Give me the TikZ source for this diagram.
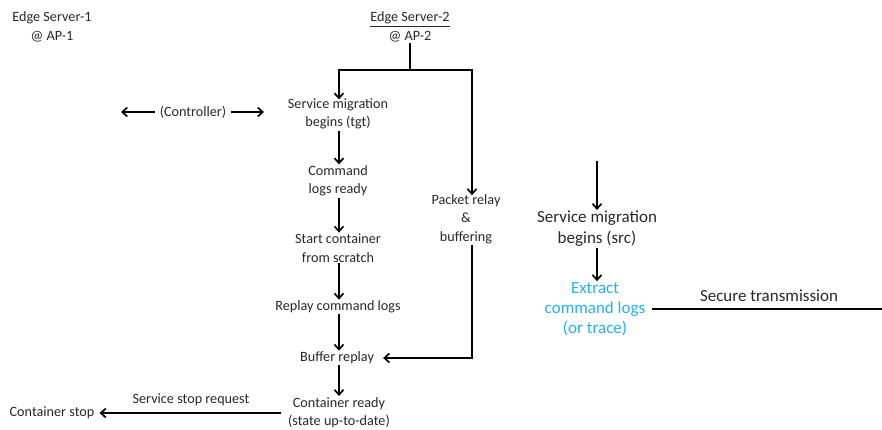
\documentclass[tikz,border=0pt]{standalone}
\usepackage{fontspec}
\setmainfont{Carlito}
\usetikzlibrary{arrows.meta}
\definecolor{txt}{RGB}{40,40,40}
\definecolor{logblue}{RGB}{40,176,232}
\begin{document}
\begin{tikzpicture}[x=1pt,y=-1pt,
  lbl/.style={align=center,text=txt,font=\fontsize{14.2}{18.5}\selectfont,inner sep=1pt},
  big/.style={align=center,text=txt,font=\fontsize{17}{21}\selectfont,inner sep=1pt},
  flow/.style={line width=1.7pt,-{Straight Barb[length=5pt,width=9pt,line width=1.7pt]}},
  wire/.style={line width=1.7pt}]
\useasboundingbox (0,0) rectangle (882,429);

% server headers
\node[lbl] (es1) at (52,27) {Edge Server-1\\@ AP-1};
\node[lbl] (es2) at (410,27) {\underline{Edge Server-2}\\@ AP-2};

% target-side column
\node[lbl] (tgt)  at (338,114) {Service migration\\begins (tgt)};
\node[lbl] (cmd)  at (338,181) {Command\\logs ready};
\node[lbl] (start) at (338,248) {Start container\\from scratch};
\node[lbl] (replay) at (338,307) {Replay command logs};
\node[lbl] (buf)  at (337,358) {Buffer replay};
\node[lbl,anchor=north] (ready) at (339,396) {Container ready\\(state up-to-date)};

% relay branch
\node[lbl] (relay) at (466,219) {Packet relay\\\&\\buffering};

% controller
\node[lbl] (ctrl) at (193,112) {(Controller)};
\coordinate (ctrlL) at (121,112);
\coordinate (ctrlR) at (264,112);

% stop request
\node[lbl] (stop) at (52,413) {Container stop};
\node[lbl] (stopreq) at (191,400) {Service stop request};
\coordinate (stopsrc) at (281,413);

% source side
\coordinate (srcin) at (597,161);
\node[big] (src) at (597,229) {Service migration\\begins (src)};
\node[lbl,text=logblue,font=\fontsize{17}{20}\selectfont] (extract) at (595,309) {Extract\\command logs\\(or trace)};
\node[big] (secure) at (769,296) {Secure transmission};
\coordinate (secend) at (882,309);

% split below Edge Server-2
\coordinate (split) at (410,70);
\coordinate (splitL) at (339,70);
\coordinate (splitR) at (472,70);
\draw[wire] (es2.south) -- (split);
\draw[flow] (split) -- (splitL) -- ([yshift=-2pt]tgt.north -| splitL);
\draw[flow] (split) -- (splitR) -- ([yshift=-2pt]relay.north -| splitR);

% target flow
\draw[flow] (tgt.south -| splitL) -- (cmd.north -| splitL);
\draw[flow] (cmd.south -| splitL) -- (start.north -| splitL);
\draw[flow] (start.south -| splitL) -- (replay.north -| splitL);
\draw[flow] (replay.south -| splitL) -- (buf.north -| splitL);
\draw[flow] (buf.south -| splitL) -- (ready.north -| splitL);

% relay into buffer replay
\coordinate (relayturn) at (472,358);
\draw[flow] (relay.south -| splitR) -- (relayturn) -- ([xshift=8pt]buf.east);

% controller arrows
\draw[flow] (ctrl.west) ++(-4,0) -- (ctrlL);
\draw[flow] (ctrl.east) ++(4,0) -- (ctrlR);

% stop request
\draw[flow] (stopsrc) -- ([xshift=4pt]stop.east);

% source flow
\draw[flow] (srcin) -- (src.north);
\draw[flow] (src.south) -- (extract.north -| src.south);
\draw[wire] (extract.east |- secend) ++(6,0) -- (secend);
\end{tikzpicture}
\end{document}
